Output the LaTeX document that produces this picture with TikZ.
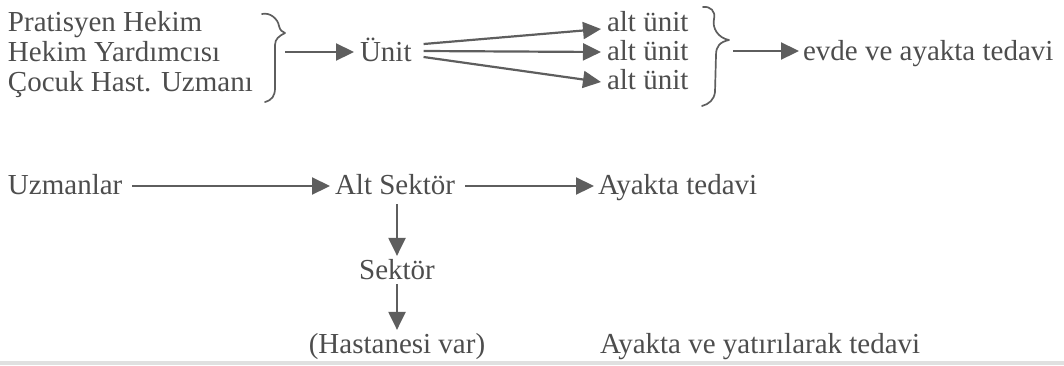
\documentclass[tikz,border=0pt]{standalone}
\usepackage{fontspec}
\setmainfont{Liberation Serif}
\usetikzlibrary{arrows.meta}
\definecolor{ink}{HTML}{4D4D4D}
\definecolor{arrowc}{HTML}{5E5E5E}
\begin{document}
\begin{tikzpicture}[x=1pt,y=-1pt,
  lbl/.style={inner sep=0pt, outer sep=0pt, text=ink, font=\fontsize{29}{30}\selectfont},
  arr/.style={draw=arrowc, line width=2.2pt, -{Triangle[length=18pt,width=17pt]}},
  brace/.style={draw=arrowc, line width=1.7pt, line cap=round, line join=round}]
\useasboundingbox (0,0) rectangle (1064,365);

% row 1
\node[lbl, anchor=base west] (p1) at (8,31) {Pratisyen Hekim};
\node[lbl, anchor=base west] (p2) at (8,61) {Hekim Yardımcısı};
\node[lbl, anchor=base west] (p3) at (8,91) {Çocuk Hast. Uzmanı};
\node[lbl, anchor=base west] (unit) at (360,61) {Ünit};
\node[lbl, anchor=base west] (a1) at (607,31) {alt ünit};
\node[lbl, anchor=base west] (a2) at (607,60) {alt ünit};
\node[lbl, anchor=base west] (a3) at (607,89) {alt ünit};
\node[lbl, anchor=base west] (evde) at (803,60) {evde ve ayakta tedavi};

% braces
\draw[brace] (262,14) .. controls (270,12) and (278,19) .. (279,26)
  .. controls (280,30) and (282,32) .. (285,33)
  .. controls (279,36) and (275,39) .. (275,45) -- (275,88)
  .. controls (275,96) and (272,100) .. (265,102);
\draw[brace] (703,7) .. controls (710,6) and (716,11) .. (714,19)
  .. controls (712,28) and (718,38) .. (729,40)
  .. controls (720,42) and (716,46) .. (716,55) -- (715,92)
  .. controls (714,100) and (709,104) .. (702,106);

\coordinate (b1) at (285,52);
\coordinate (b2) at (733,51);
\draw[arr] (b1) -- ([xshift=-6pt]unit.west |- b1);
\draw[arr] (b2) -- ([xshift=-4pt]evde.west |- b2);

% fan of arrows
\draw[arr] ([shift={(12,-17)}]unit.base east) -- ([shift={(-6,-2)}]a1.base west);
\draw[arr] ([shift={(12,-10)}]unit.base east) -- ([shift={(-6,-8)}]a2.base west);
\draw[arr] ([shift={(12,-4)}]unit.base east) -- ([shift={(-6,-7)}]a3.base west);

% row 2
\node[lbl, anchor=base west] (uzm) at (8,194) {Uzmanlar};
\node[lbl, anchor=base west] (alt) at (335,194) {Alt Sektör};
\node[lbl, anchor=base west] (ayakta) at (598,194) {Ayakta tedavi};
\draw[arr] ([shift={(10,-8)}]uzm.base east) -- ([shift={(-5,-8)}]alt.base west);
\draw[arr] ([shift={(10,-8)}]alt.base east) -- ([shift={(-4,-8)}]ayakta.base west);

% column
\node[lbl, anchor=base] (sektor) at (397,279) {Sektör};
\node[lbl, anchor=base] (hast) at (397,353) {(Hastanesi var)};
\node[lbl, anchor=base west] (ayy) at (600,353) {Ayakta ve yatırılarak tedavi};
\draw[arr] ([yshift=-10pt]alt.south -| sektor.base) -- ([yshift=3pt]sektor.north);
\draw[arr] ([yshift=-5pt]sektor.south) -- ([yshift=3pt]hast.north);

% bottom edge of the scan
\fill[black!12] (0,361) rectangle (1064,365);
\end{tikzpicture}
\end{document}
